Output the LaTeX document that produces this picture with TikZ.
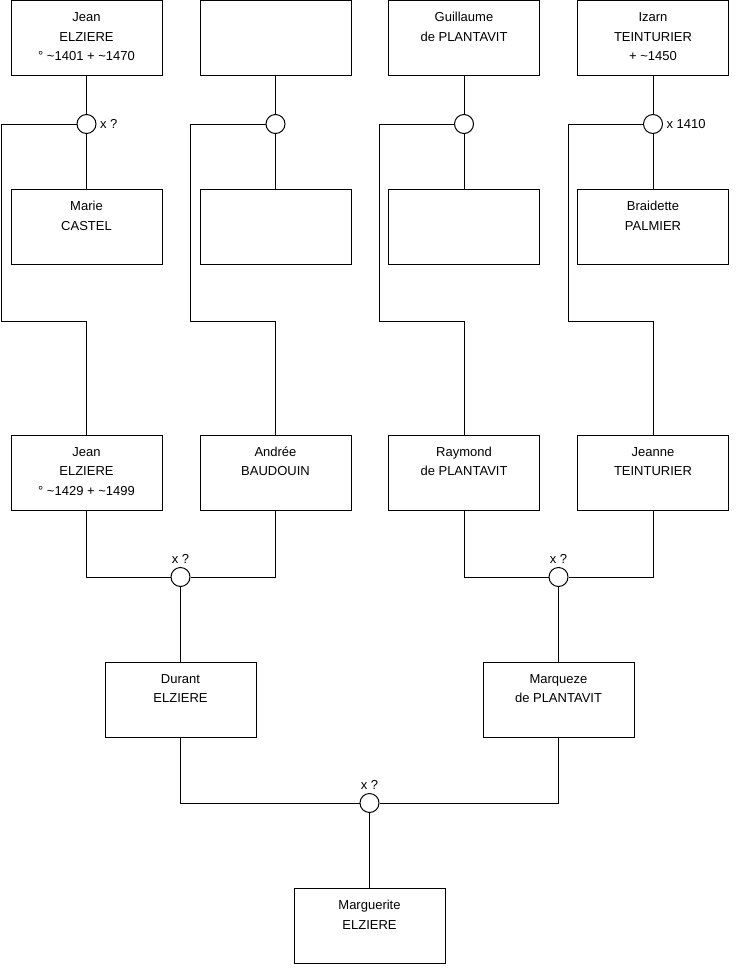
\documentclass[tikz,border=0pt]{standalone}
\usepackage{fontspec}
\setmainfont{Liberation Sans}
\usetikzlibrary{positioning}
% texte d'une fiche : lignes calees en haut de la case
\newcommand{\carte}[1]{\parbox[c][75pt][t]{151pt}{\centering\rule{0pt}{21pt}#1}}
\newcommand{\env}{\textasciitilde}

\begin{document}
\begin{tikzpicture}[x=1pt, y=-1pt, line width=1pt,
    fiche/.style={draw, inner sep=0pt, font=\fontsize{13}{19.5}\selectfont},
    union/.style={draw, circle, fill=white, minimum size=19pt, inner sep=0pt},
    note/.style={font=\fontsize{13}{15}\selectfont, inner sep=3pt}]
    \useasboundingbox (0,0) rectangle (740,975);
    % arriere-grands-parents
    \node[fiche] (p1) at (86.5,38)  {\carte{Jean\\ELZIERE\\° \env1401 + \env1470}};
    \node[fiche] (p2) at (275.5,38) {\carte{}};
    \node[fiche] (p3) at (464,38)   {\carte{Guillaume\\de PLANTAVIT}};
    \node[fiche] (p4) at (653,38)   {\carte{Izarn\\TEINTURIER\\+ \env1450}};
    % epouses
    \node[fiche] (s1) at (86.5,227)  {\carte{Marie\\CASTEL}};
    \node[fiche] (s2) at (275.5,227) {\carte{}};
    \node[fiche] (s3) at (464,227)   {\carte{}};
    \node[fiche] (s4) at (653,227)   {\carte{Braidette\\PALMIER}};
    % unions du haut
    \node[union, label={[note]right:x ?}] (m1) at (86.5,124) {};
    \node[union] (m2) at (275.5,124) {};
    \node[union] (m3) at (464,124) {};
    \node[union, label={[note]right:x 1410}] (m4) at (653,124) {};
    % grands-parents
    \node[fiche] (c1) at (86.5,472.5)  {\carte{Jean\\ELZIERE\\° \env1429 + \env1499}};
    \node[fiche] (c2) at (275.5,472.5) {\carte{Andrée\\BAUDOUIN}};
    \node[fiche] (c3) at (464,472.5)   {\carte{Raymond\\de PLANTAVIT}};
    \node[fiche] (c4) at (653,472.5)   {\carte{Jeanne\\TEINTURIER}};
    % coudes des lignes de descendance
    \coordinate (k1) at (1.5,321.5);
    \coordinate (k2) at (190,321.5);
    \coordinate (k3) at (379,321.5);
    \coordinate (k4) at (568,321.5);
    \foreach \i in {1,...,4}{
        \draw (p\i) -- (m\i) -- (s\i);
        \draw (m\i) -| (k\i) -| (c\i);
    }
    % parents
    \node[union, label={[note]above:x ?}] (m5) at (180.5,577) {};
    \node[union, label={[note]above:x ?}] (m6) at (558.5,577) {};
    \node[fiche] (d1) at (180.5,699.5) {\carte{Durant\\ELZIERE}};
    \node[fiche] (d2) at (558.5,699.5) {\carte{Marqueze\\de PLANTAVIT}};
    \draw (c1) |- (m5) -| (c2);
    \draw (c3) |- (m6) -| (c4);
    \draw (m5) -- (d1);
    \draw (m6) -- (d2);
    % Marguerite
    \node[union, label={[note]above:x ?}] (m7) at (369.5,803) {};
    \node[fiche] (g1) at (369.5,926) {\carte{Marguerite\\ELZIERE}};
    \draw (d1) |- (m7) -| (d2);
    \draw (m7) -- (g1);
\end{tikzpicture}
\end{document}
